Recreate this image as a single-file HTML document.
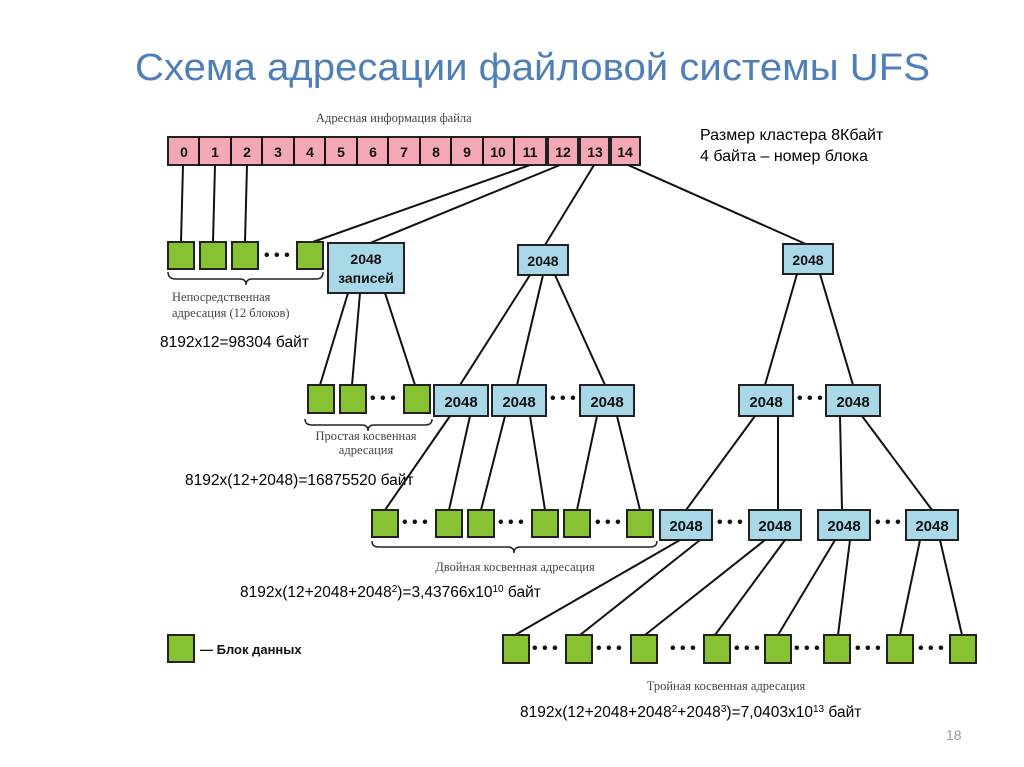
<!DOCTYPE html>
<html><head><meta charset="utf-8"><style>
body{margin:0;background:#fff;}
svg{display:block;}
.s{font-family:"Liberation Serif",serif;fill:#444;font-size:12.5px;}
.a{font-family:"Liberation Sans",sans-serif;fill:#000;font-size:15.5px;}
.r{font-family:"Liberation Sans",sans-serif;fill:#000;font-size:16px;}
.n{font-family:"Liberation Sans",sans-serif;font-weight:bold;fill:#111;font-size:15px;text-anchor:middle;}
.c{font-family:"Liberation Sans",sans-serif;font-weight:bold;fill:#111;font-size:14px;text-anchor:middle;}
.g{fill:#86c232;stroke:#222;stroke-width:2;}
.b{fill:#a9d9e8;stroke:#222;stroke-width:2;}
line{stroke:#111;stroke-width:2;}
.d{font-family:"Liberation Sans",sans-serif;font-weight:bold;font-size:16px;fill:#111;}
</style></head><body>
<svg width="1024" height="767" viewBox="0 0 1024 767" xmlns="http://www.w3.org/2000/svg">
<text x="135" y="80" font-family="Liberation Sans,sans-serif" font-size="38" fill="#4f7fb8" textLength="795" lengthAdjust="spacingAndGlyphs">Схема адресации файловой системы UFS</text>
<text class="s" x="316" y="122">Адресная информация файла</text>
<text class="r" x="700" y="140">Размер кластера 8Кбайт</text>
<text class="r" x="700" y="161">4 байта – номер блока</text>
<g>
<rect x="168" y="137" width="472" height="28" fill="#f4a7b5" stroke="#222" stroke-width="2"/>
<g stroke="#222" stroke-width="2">
<line x1="199" y1="137" x2="199" y2="165"/><line x1="231" y1="137" x2="231" y2="165"/><line x1="262" y1="137" x2="262" y2="165"/>
<line x1="294" y1="137" x2="294" y2="165"/><line x1="325" y1="137" x2="325" y2="165"/><line x1="357" y1="137" x2="357" y2="165"/>
<line x1="388" y1="137" x2="388" y2="165"/><line x1="420" y1="137" x2="420" y2="165"/><line x1="451" y1="137" x2="451" y2="165"/>
<line x1="483" y1="137" x2="483" y2="165"/><line x1="514" y1="137" x2="514" y2="165"/>
</g>
<rect x="545" y="137" width="4" height="28" fill="#222"/><rect x="577" y="137" width="4" height="28" fill="#222"/><rect x="608" y="137" width="4" height="28" fill="#222"/>
<text class="c" x="184" y="157">0</text><text class="c" x="215" y="157">1</text><text class="c" x="247" y="157">2</text><text class="c" x="278" y="157">3</text>
<text class="c" x="310" y="157">4</text><text class="c" x="341" y="157">5</text><text class="c" x="373" y="157">6</text><text class="c" x="404" y="157">7</text>
<text class="c" x="436" y="157">8</text><text class="c" x="467" y="157">9</text><text class="c" x="498" y="157">10</text><text class="c" x="530" y="157">11</text>
<text class="c" x="563" y="157">12</text><text class="c" x="595" y="157">13</text><text class="c" x="625" y="157">14</text>
</g>
<line x1="183" y1="165" x2="181" y2="242"/><line x1="215" y1="165" x2="213" y2="242"/><line x1="247" y1="165" x2="245" y2="242"/>
<line x1="530" y1="165" x2="310" y2="243"/><line x1="560" y1="165" x2="370" y2="243"/>
<line x1="594" y1="165" x2="545" y2="245"/><line x1="628" y1="165" x2="808" y2="245"/>
<rect class="g" x="168" y="242" width="26" height="27"/><rect class="g" x="200" y="242" width="26" height="27"/><rect class="g" x="232" y="242" width="26" height="27"/>
<text class="d" x="264" y="260">• • •</text>
<rect class="g" x="297" y="242" width="26" height="27"/>
<rect class="b" x="328" y="243" width="76" height="50"/>
<text class="c" x="366" y="264">2048</text><text class="c" x="366" y="283">записей</text>
<rect class="b" x="518" y="245" width="50" height="30"/><text class="c" x="543" y="266">2048</text>
<rect class="b" x="783" y="244" width="50" height="30"/><text class="c" x="808" y="265">2048</text>
<path d="M168 272 Q168 279 176 279 L240 279 Q246 279 246 285 Q246 279 252 279 L316 279 Q323 279 323 272" fill="none" stroke="#222" stroke-width="1.5"/>
<text class="s" x="172" y="301">Непосредственная</text><text class="s" x="172" y="317">адресация (12 блоков)</text>
<text class="a" x="160" y="347">8192x12=98304 байт</text>
<line x1="348" y1="293" x2="320" y2="385"/><line x1="360" y1="293" x2="352" y2="385"/><line x1="385" y1="293" x2="415" y2="385"/>
<line x1="530" y1="275" x2="460" y2="385"/><line x1="543" y1="275" x2="517" y2="385"/><line x1="555" y1="275" x2="605" y2="385"/>
<line x1="797" y1="274" x2="765" y2="385"/><line x1="820" y1="274" x2="853" y2="385"/>
<rect class="g" x="308" y="385" width="26" height="28"/><rect class="g" x="340" y="385" width="26" height="28"/>
<text class="d" x="370" y="403">• • •</text>
<rect class="g" x="404" y="385" width="26" height="28"/>
<rect class="b" x="434" y="385" width="54" height="31"/><text class="n" x="461" y="407">2048</text>
<rect class="b" x="492" y="385" width="54" height="31"/><text class="n" x="519" y="407">2048</text>
<text class="d" x="550" y="403">• • •</text>
<rect class="b" x="580" y="385" width="54" height="31"/><text class="n" x="607" y="407">2048</text>
<rect class="b" x="739" y="385" width="54" height="31"/><text class="n" x="766" y="407">2048</text>
<text class="d" x="797" y="403">• • •</text>
<rect class="b" x="826" y="385" width="54" height="31"/><text class="n" x="853" y="407">2048</text>
<path d="M305 419 Q305 425 312 425 L362 425 Q368 425 368 431 Q368 425 374 425 L425 425 Q432 425 432 419" fill="none" stroke="#222" stroke-width="1.5"/>
<text class="s" x="366" y="440" text-anchor="middle">Простая косвенная</text><text class="s" x="366" y="454" text-anchor="middle">адресация</text>
<text class="a" x="185" y="485">8192x(12+2048)=16875520 байт</text>
<line x1="450" y1="416" x2="385" y2="510"/><line x1="470" y1="416" x2="449" y2="510"/>
<line x1="505" y1="416" x2="481" y2="510"/><line x1="530" y1="416" x2="545" y2="510"/>
<line x1="597" y1="416" x2="577" y2="510"/><line x1="617" y1="416" x2="640" y2="510"/>
<line x1="755" y1="416" x2="686" y2="510"/><line x1="778" y1="416" x2="778" y2="510"/>
<line x1="840" y1="416" x2="842" y2="510"/><line x1="862" y1="416" x2="932" y2="510"/>
<rect class="g" x="372" y="510" width="26" height="27"/><text class="d" x="402" y="527">• • •</text>
<rect class="g" x="436" y="510" width="26" height="27"/><rect class="g" x="468" y="510" width="26" height="27"/><text class="d" x="498" y="527">• • •</text>
<rect class="g" x="532" y="510" width="26" height="27"/><rect class="g" x="564" y="510" width="26" height="27"/><text class="d" x="595" y="527">• • •</text>
<rect class="g" x="627" y="510" width="26" height="27"/>
<rect class="b" x="660" y="510" width="52" height="30"/><text class="n" x="686" y="531">2048</text>
<text class="d" x="717" y="527">• • •</text>
<rect class="b" x="749" y="510" width="52" height="30"/><text class="n" x="775" y="531">2048</text>
<rect class="b" x="818" y="510" width="52" height="30"/><text class="n" x="844" y="531">2048</text>
<text class="d" x="875" y="527">• • •</text>
<rect class="b" x="906" y="510" width="52" height="30"/><text class="n" x="932" y="531">2048</text>
<path d="M372 541 Q372 547 379 547 L508 547 Q514 547 514 553 Q514 547 520 547 L650 547 Q657 547 657 541" fill="none" stroke="#222" stroke-width="1.5"/>
<text class="s" x="515" y="571" text-anchor="middle">Двойная косвенная адресация</text>
<text class="a" x="240" y="597">8192x(12+2048+2048<tspan font-size="10" dy="-5">2</tspan><tspan dy="5">)=3,43766x10</tspan><tspan font-size="10" dy="-5">10</tspan><tspan dy="5"> байт</tspan></text>
<rect class="g" x="168" y="635" width="26" height="27"/>
<text x="200" y="654" font-family="Liberation Sans,sans-serif" font-weight="bold" font-size="13" fill="#111">— Блок данных</text>
<line x1="680" y1="540" x2="515" y2="635"/><line x1="700" y1="540" x2="580" y2="635"/>
<line x1="765" y1="540" x2="645" y2="635"/><line x1="785" y1="540" x2="715" y2="635"/>
<line x1="835" y1="540" x2="778" y2="635"/><line x1="850" y1="540" x2="838" y2="635"/>
<line x1="920" y1="540" x2="900" y2="635"/><line x1="940" y1="540" x2="962" y2="635"/>
<rect class="g" x="503" y="635" width="26" height="28"/><text class="d" x="532" y="653">• • •</text>
<rect class="g" x="566" y="635" width="26" height="28"/><text class="d" x="596" y="653">• • •</text>
<rect class="g" x="631" y="635" width="26" height="28"/><text class="d" x="670" y="653">• • •</text>
<rect class="g" x="704" y="635" width="26" height="28"/><text class="d" x="734" y="653">• • •</text>
<rect class="g" x="765" y="635" width="26" height="28"/><text class="d" x="794" y="653">• • •</text>
<rect class="g" x="824" y="635" width="26" height="28"/><text class="d" x="855" y="653">• • •</text>
<rect class="g" x="887" y="635" width="26" height="28"/><text class="d" x="918" y="653">• • •</text>
<rect class="g" x="950" y="635" width="26" height="28"/>
<text class="s" x="726" y="690" text-anchor="middle">Тройная косвенная адресация</text>
<text class="a" x="520" y="717">8192x(12+2048+2048<tspan font-size="10" dy="-5">2</tspan><tspan dy="5">+2048</tspan><tspan font-size="10" dy="-5">3</tspan><tspan dy="5">)=7,0403x10</tspan><tspan font-size="10" dy="-5">13</tspan><tspan dy="5"> байт</tspan></text>
<text x="946" y="740" font-family="Liberation Sans,sans-serif" font-size="14" fill="#999">18</text>
</svg>
</body></html>
